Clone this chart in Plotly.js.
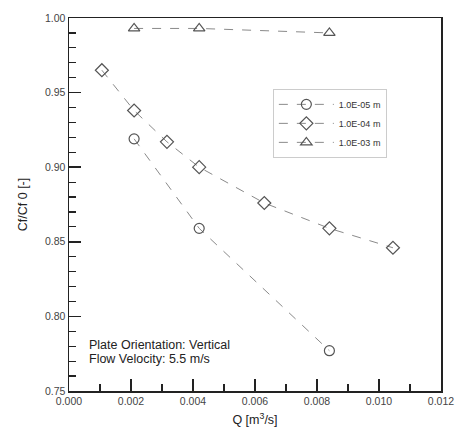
<!DOCTYPE html>
<html>
<head>
<meta charset="utf-8">
<script src="https://cdn.plot.ly/plotly-3.0.1.min.js"></script>
<style>html,body{margin:0;padding:0;background:#fff;}#chart{width:456px;height:432px;}</style>
</head>
<body>
<div id="chart"></div>
<script>
const seriesNames = ["1.0E-05 m", "1.0E-04 m", "1.0E-03 m"];
const q1 = [0.0021, 0.0042, 0.0084];
const cf1 = [0.919, 0.859, 0.777];
const q2 = [0.00106, 0.0021, 0.00316, 0.0042, 0.0063, 0.0084, 0.01045];
const cf2 = [0.965, 0.938, 0.917, 0.900, 0.876, 0.859, 0.846];
const q3 = [0.0021, 0.0042, 0.0084];
const cf3 = [0.993, 0.993, 0.990];
const xTicks = [0.000, 0.002, 0.004, 0.006, 0.008, 0.010, 0.012];
const xTickText = ["0.000", "0.002", "0.004", "0.006", "0.008", "0.010", "0.012"];
const yTicks = [0.75, 0.80, 0.85, 0.90, 0.95, 1.00];
const yTickText = ["0.75", "0.80", "0.85", "0.90", "0.95", "1.00"];
const notes = ["Plate Orientation: Vertical", "Flow Velocity: 5.5 m/s"];

const symbols = ["circle-open", "diamond-open", "triangle-up-open"];
const xs = [q1, q2, q3];
const ys = [cf1, cf2, cf3];
const traces = xs.map((x, i) => ({
  x: x, y: ys[i], name: seriesNames[i], type: "scatter", mode: "lines+markers",
  line: {color: "#8a8a8a", width: 1, dash: "dash"},
  marker: {symbol: symbols[i], size: 10, color: "#555", line: {width: 1.2, color: "#555"}}
}));

const font = "Arial, 'Liberation Sans', sans-serif";
const layout = {
  width: 456, height: 432,
  margin: {l: 69, r: 15, t: 18, b: 41},
  paper_bgcolor: "#fff", plot_bgcolor: "#fff",
  font: {family: font, color: "#333", size: 10},
  showlegend: true,
  legend: {x: 0.548, y: 0.81, xanchor: "left", yanchor: "top",
    bordercolor: "#ccc", borderwidth: 1, bgcolor: "#fff",
    font: {size: 9, color: "#333"}, tracegroupgap: 0, itemwidth: 55},
  xaxis: {range: [0, 0.012], tickvals: xTicks, ticktext: xTickText,
    ticks: "inside", ticklen: 12, tickwidth: 1.5, tickcolor: "#222",
    minor: {dtick: 0.001, ticks: "inside", ticklen: 7, tickwidth: 1.2, tickcolor: "#222"},
    showgrid: false, zeroline: false, showline: true, linecolor: "#222", linewidth: 1.5, mirror: true,
    tickfont: {size: 10.5, color: "#444"},
    title: {text: "Q [m<sup>3</sup>/s]", font: {size: 12.5, color: "#222"}, standoff: 9}},
  yaxis: {range: [0.75, 1.00], tickvals: yTicks, ticktext: yTickText,
    ticks: "inside", ticklen: 12, tickwidth: 1.5, tickcolor: "#222",
    minor: {dtick: 0.01, ticks: "inside", ticklen: 7, tickwidth: 1.2, tickcolor: "#222"},
    showgrid: false, zeroline: false, showline: true, linecolor: "#222", linewidth: 1.5, mirror: true,
    tickfont: {size: 10.5, color: "#444"},
    title: {text: "Cf/Cf 0 [-]", font: {size: 12.5, color: "#222"}, standoff: 14}},
  annotations: notes.map((t, i) => ({
    text: t, xref: "paper", yref: "paper", x: 0.048, y: 0.124 - i * 0.038,
    xanchor: "left", yanchor: "middle", showarrow: false,
    font: {size: 12.5, color: "#222"}
  }))
};
Plotly.newPlot("chart", traces, layout, {displayModeBar: false, staticPlot: true});
</script>
</body>
</html>
